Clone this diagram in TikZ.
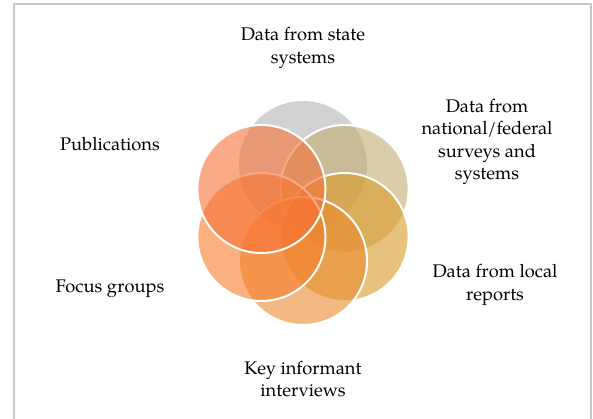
\documentclass[tikz,border=0pt]{standalone}
\usepackage{fontspec}
\setmainfont{TeX Gyre Pagella}
\begin{document}
\begin{tikzpicture}[x=1pt,y=-1pt,
  ring/.style={circle, minimum size=128pt, inner sep=0pt, draw=white, line width=2pt, fill opacity=0.6, draw opacity=1},
  lbl/.style={align=center, font=\fontsize{18.3}{22.5}\selectfont, text=black, inner sep=0pt}]
\definecolor{cgray}{RGB}{180,180,180}
\definecolor{ctan}{RGB}{197,172,113}
\definecolor{cgold}{RGB}{217,155,38}
\definecolor{cbot}{RGB}{235,138,47}
\definecolor{clb}{RGB}{247,125,42}
\definecolor{ctl}{RGB}{247,113,55}
\definecolor{frame}{RGB}{200,200,200}
\useasboundingbox (0,0) rectangle (593,419);
\draw[frame, line width=2pt] (13.5,440) -- (13.5,4.5) -- (591,4.5) -- (591,440);
\node[ring, fill=cgray, draw=none] (c1) at (303,165) {};
\node[ring, fill=ctan] (c2) at (344.6,189) {};
\node[ring, fill=cgold] (c3) at (344.6,237) {};
\node[ring, fill=cbot] (c4) at (303,261) {};
\node[ring, fill=clb] (c5) at (261.4,237) {};
\node[ring, fill=ctl] (c6) at (261.4,189) {};
\node[lbl] (t1) at (303,48) {Data from state\\systems};
\node[lbl] (t2) at (487,142) {Data from\\national/federal\\surveys and\\systems};
\node[lbl] (t3) at (495,285) {Data from local\\reports};
\node[lbl] (t4) at (303,379) {Key informant\\interviews};
\node[lbl] (t5) at (110,289) {Focus groups};
\node[lbl] (t6) at (110,144) {Publications};
\end{tikzpicture}
\end{document}
